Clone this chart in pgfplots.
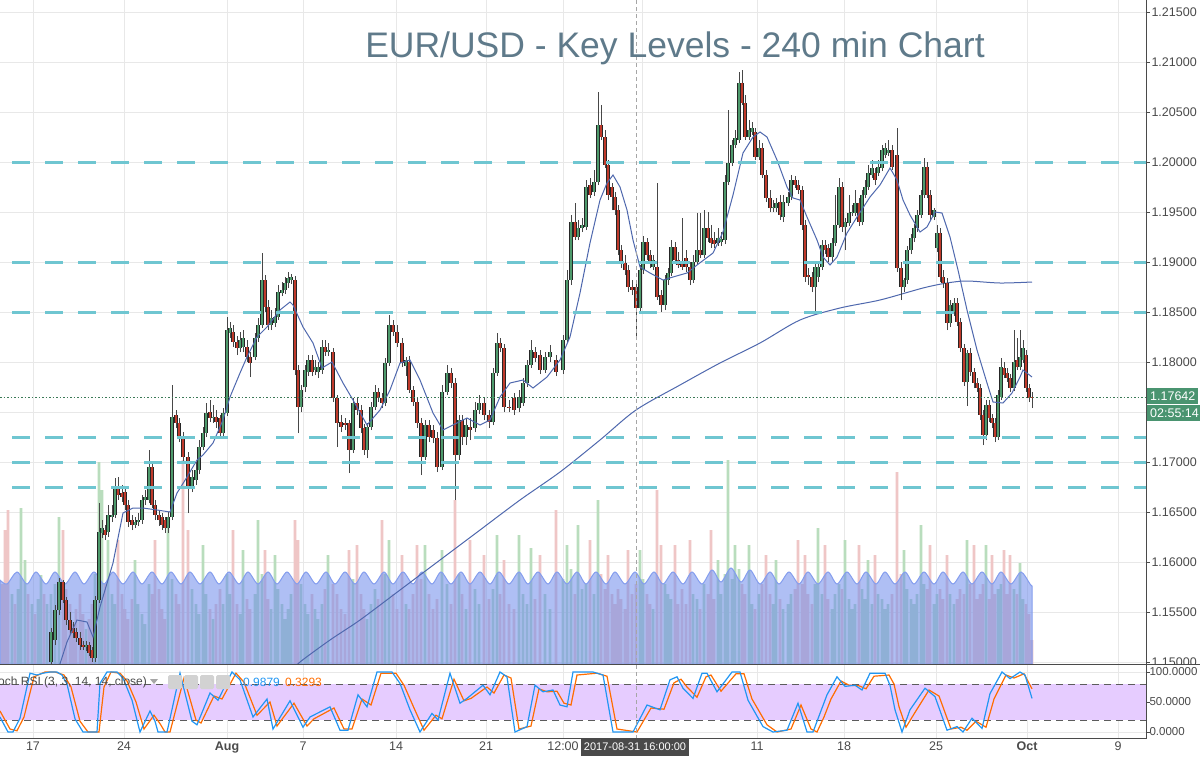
\documentclass[border=0pt]{standalone}
\usepackage{pgfplots}
\pgfplotsset{compat=1.18}
\usepackage{pgfplotstable}
\usepackage{fontspec}
\setmainfont{Liberation Sans}
\definecolor{gridc}{HTML}{E8E8E8}
\definecolor{txt}{HTML}{4A4A4A}
\definecolor{upc}{HTML}{4E9A6C}
\definecolor{dnc}{HTML}{BF3A2B}
\definecolor{edge}{HTML}{262626}
\definecolor{keyc}{HTML}{6FC6D1}
\definecolor{mac}{HTML}{4F68AE}
\definecolor{volup}{HTML}{B9DDBD}
\definecolor{voldn}{HTML}{EFC6C6}
\definecolor{volma}{HTML}{6E8CEB}
\definecolor{kc}{HTML}{2196F3}
\definecolor{dc}{HTML}{FF6D00}
\definecolor{band}{HTML}{E6CCFF}
\definecolor{titlec}{HTML}{5F7A8A}
\definecolor{pricebox}{HTML}{4A9470}
\definecolor{cur}{HTML}{3B7A57}

\pgfplotstableread{
x o h l c v
51 1.1500 1.1534 1.1498 1.1530 70
55 1.1522 1.1557 1.1517 1.1552 80
59 1.1552 1.1584 1.1547 1.1580 147
63 1.1580 1.1582 1.1559 1.1562 134
66 1.1562 1.1565 1.1537 1.1542 75
70 1.1542 1.1550 1.1527 1.1532 60
73 1.1534 1.1540 1.1524 1.1529 40
76 1.1530 1.1534 1.1520 1.1524 55
80 1.1524 1.1530 1.1512 1.1517 70
83 1.1517 1.1521 1.1512 1.1515 50
86 1.1515 1.1521 1.1511 1.1517 35
89 1.1517 1.1520 1.1506 1.1509 45
92 1.1512 1.1515 1.1500 1.1504 60
95 1.1504 1.1566 1.1500 1.1562 90
99 1.1562 1.1659 1.1559 1.1630 202
102 1.1629 1.1642 1.1624 1.1634 174
105 1.1632 1.1637 1.1622 1.1627 80
108 1.1630 1.1657 1.1625 1.1647 124
112 1.1645 1.1657 1.1640 1.1647 70
115 1.1647 1.1684 1.1644 1.1674 60
118 1.1674 1.1685 1.1662 1.1667 124
122 1.1669 1.1677 1.1660 1.1665 70
125 1.1670 1.1674 1.1652 1.1657 55
128 1.1657 1.1662 1.1635 1.1640 45
132 1.1642 1.1647 1.1632 1.1637 65
135 1.1637 1.1645 1.1634 1.1640 104
138 1.1640 1.1649 1.1636 1.1642 60
142 1.1642 1.1667 1.1638 1.1662 50
145 1.1662 1.1672 1.1657 1.1665 40
149 1.1662 1.1712 1.1659 1.1695 80
152 1.1695 1.1700 1.1654 1.1657 70
155 1.1657 1.1662 1.1642 1.1647 124
159 1.1647 1.1652 1.1636 1.1642 75
162 1.1645 1.1649 1.1632 1.1637 55
165 1.1642 1.1645 1.1629 1.1634 45
168 1.1634 1.1650 1.1629 1.1645 139
172 1.1645 1.1777 1.1642 1.1745 85
176 1.1747 1.1752 1.1734 1.1739 70
179 1.1739 1.1744 1.1720 1.1725 60
183 1.1725 1.1730 1.1700 1.1705 204
188 1.1705 1.1710 1.1649 1.1675 134
192 1.1675 1.1692 1.1670 1.1685 75
196 1.1682 1.1700 1.1677 1.1692 60
199 1.1692 1.1722 1.1688 1.1715 50
203 1.1715 1.1735 1.1712 1.1729 119
206 1.1729 1.1759 1.1725 1.1749 70
210 1.1750 1.1762 1.1740 1.1744 55
213 1.1744 1.1757 1.1739 1.1745 45
216 1.1745 1.1752 1.1734 1.1740 60
220 1.1744 1.1747 1.1724 1.1729 75
223 1.1729 1.1754 1.1726 1.1749 60
227 1.1749 1.1845 1.1746 1.1832 90
230 1.1829 1.1840 1.1824 1.1834 70
233 1.1830 1.1837 1.1815 1.1820 134
237 1.1820 1.1826 1.1807 1.1814 60
240 1.1814 1.1830 1.1810 1.1822 50
243 1.1815 1.1832 1.1810 1.1824 114
247 1.1815 1.1822 1.1800 1.1805 65
250 1.1805 1.1810 1.1785 1.1799 55
255 1.1805 1.1829 1.1802 1.1824 70
258 1.1824 1.1844 1.1820 1.1837 144
262 1.1837 1.1909 1.1834 1.1882 90
265 1.1882 1.1887 1.1850 1.1855 114
268 1.1855 1.1862 1.1832 1.1837 65
271 1.1837 1.1852 1.1832 1.1844 55
275 1.1839 1.1854 1.1835 1.1845 109
278 1.1845 1.1877 1.1842 1.1870 75
282 1.1869 1.1880 1.1866 1.1872 60
285 1.1872 1.1885 1.1868 1.1879 45
288 1.1879 1.1890 1.1874 1.1884 55
291 1.1882 1.1888 1.1878 1.1885 70
295 1.1882 1.1886 1.1787 1.1792 144
298 1.1792 1.1797 1.1729 1.1755 124
301 1.1755 1.1777 1.1750 1.1772 80
305 1.1775 1.1797 1.1770 1.1792 60
308 1.1790 1.1807 1.1786 1.1802 50
312 1.1802 1.1807 1.1786 1.1790 70
315 1.1792 1.1802 1.1787 1.1795 55
318 1.1790 1.1800 1.1784 1.1795 45
322 1.1792 1.1822 1.1788 1.1815 60
325 1.1815 1.1822 1.1806 1.1810 75
328 1.1810 1.1819 1.1806 1.1812 109
333 1.1810 1.1814 1.1760 1.1764 80
337 1.1764 1.1767 1.1715 1.1739 70
341 1.1740 1.1747 1.1730 1.1735 55
345 1.1739 1.1744 1.1732 1.1737 50
349 1.1739 1.1742 1.1689 1.1712 114
353 1.1712 1.1764 1.1709 1.1759 85
357 1.1759 1.1764 1.1747 1.1752 119
361 1.1752 1.1757 1.1729 1.1734 70
364 1.1734 1.1738 1.1707 1.1712 55
367 1.1712 1.1739 1.1704 1.1735 45
371 1.1735 1.1760 1.1732 1.1755 60
375 1.1755 1.1777 1.1752 1.1770 75
378 1.1770 1.1774 1.1760 1.1764 65
382 1.1764 1.1769 1.1754 1.1759 144
385 1.1759 1.1804 1.1756 1.1799 90
389 1.1799 1.1847 1.1796 1.1837 124
393 1.1837 1.1842 1.1826 1.1830 70
397 1.1830 1.1837 1.1815 1.1819 55
402 1.1819 1.1824 1.1795 1.1799 109
406 1.1796 1.1805 1.1786 1.1802 60
409 1.1800 1.1806 1.1769 1.1772 55
413 1.1772 1.1776 1.1756 1.1760 70
417 1.1760 1.1764 1.1734 1.1739 119
421 1.1739 1.1744 1.1687 1.1705 85
425 1.1705 1.1742 1.1702 1.1737 119
429 1.1737 1.1742 1.1720 1.1725 70
433 1.1732 1.1737 1.1719 1.1724 55
437 1.1724 1.1730 1.1690 1.1695 65
442 1.1695 1.1777 1.1692 1.1770 114
447 1.1770 1.1797 1.1767 1.1789 80
451 1.1789 1.1794 1.1774 1.1779 60
455 1.1779 1.1784 1.1662 1.1707 164
459 1.1707 1.1747 1.1702 1.1742 90
462 1.1742 1.1747 1.1717 1.1725 70
466 1.1725 1.1744 1.1717 1.1737 55
470 1.1735 1.1744 1.1722 1.1732 124
475 1.1734 1.1760 1.1730 1.1752 75
479 1.1752 1.1767 1.1748 1.1759 60
484 1.1759 1.1764 1.1742 1.1747 109
489 1.1747 1.1752 1.1734 1.1740 65
493 1.1740 1.1794 1.1737 1.1789 75
497 1.1789 1.1829 1.1786 1.1819 129
500 1.1819 1.1824 1.1810 1.1814 70
504 1.1814 1.1818 1.1750 1.1755 104
509 1.1755 1.1762 1.1750 1.1754 60
514 1.1764 1.1769 1.1747 1.1752 55
519 1.1754 1.1772 1.1750 1.1765 129
523 1.1759 1.1784 1.1756 1.1779 70
527 1.1779 1.1802 1.1775 1.1797 60
531 1.1797 1.1822 1.1794 1.1812 116
535 1.1810 1.1815 1.1800 1.1804 65
540 1.1807 1.1812 1.1788 1.1792 109
545 1.1792 1.1810 1.1789 1.1805 70
550 1.1805 1.1817 1.1800 1.1810 55
556 1.1802 1.1807 1.1786 1.1790 154
563 1.1792 1.1827 1.1788 1.1822 85
567 1.1822 1.1892 1.1819 1.1882 119
571 1.1882 1.1947 1.1877 1.1940 95
575 1.1940 1.1959 1.1922 1.1925 70
578 1.1925 1.1942 1.1922 1.1934 139
582 1.1934 1.1944 1.1930 1.1937 75
586 1.1935 1.1982 1.1932 1.1975 80
590 1.1977 1.1984 1.1964 1.1967 124
594 1.1970 1.1992 1.1966 1.1980 70
598 1.1980 1.2070 1.1977 1.2037 164
601 1.2037 1.2057 1.2022 1.2025 90
605 1.2025 1.2032 1.1994 1.1997 75
608 1.1997 1.2002 1.1962 1.1967 109
612 1.1975 1.1979 1.1952 1.1965 70
615 1.1965 1.1970 1.1947 1.1952 60
618 1.1952 1.1957 1.1907 1.1912 75
621 1.1912 1.1917 1.1894 1.1899 65
625 1.1899 1.1907 1.1887 1.1892 55
628 1.1892 1.1897 1.1870 1.1875 114
632 1.1875 1.1882 1.1867 1.1872 70
636 1.1875 1.1880 1.1822 1.1854 80
640 1.1854 1.1897 1.1850 1.1892 114
643 1.1892 1.1926 1.1888 1.1920 85
647 1.1920 1.1924 1.1902 1.1907 70
650 1.1907 1.1912 1.1894 1.1899 60
653 1.1895 1.1907 1.1892 1.1902 55
657 1.1895 1.1979 1.1862 1.1865 174
661 1.1867 1.1872 1.1850 1.1857 119
665 1.1857 1.1887 1.1852 1.1882 80
668 1.1882 1.1894 1.1877 1.1889 70
671 1.1889 1.1922 1.1886 1.1915 65
675 1.1915 1.1920 1.1898 1.1902 119
678 1.1902 1.1910 1.1894 1.1897 60
682 1.1900 1.1944 1.1892 1.1895 75
686 1.1904 1.1912 1.1890 1.1895 60
690 1.1895 1.1900 1.1877 1.1882 124
693 1.1882 1.1907 1.1879 1.1900 70
697 1.1900 1.1949 1.1897 1.1912 65
700 1.1912 1.1949 1.1904 1.1907 55
704 1.1907 1.1952 1.1904 1.1934 80
708 1.1934 1.1950 1.1920 1.1924 70
711 1.1924 1.1937 1.1914 1.1919 134
714 1.1922 1.1930 1.1914 1.1918 65
718 1.1919 1.1934 1.1916 1.1924 104
721 1.1920 1.1930 1.1916 1.1923 70
725 1.1922 1.1987 1.1918 1.1980 90
728 1.1980 1.2052 1.1977 1.1999 204
732 1.1999 1.2022 1.1996 1.2017 85
735 1.2017 1.2032 1.2014 1.2024 119
739 1.2022 1.2090 1.2019 1.2079 95
742 1.2079 1.2092 1.2057 1.2059 80
745 1.2059 1.2067 1.2022 1.2025 70
749 1.2025 1.2042 1.2022 1.2032 119
752 1.2030 1.2040 1.2027 1.2034 60
755 1.2030 1.2034 1.2002 1.2005 55
759 1.2005 1.2022 1.2002 1.2014 70
762 1.2014 1.2019 1.1984 1.1987 80
766 1.1987 1.1992 1.1960 1.1964 109
770 1.1964 1.1972 1.1950 1.1954 70
773 1.1954 1.1962 1.1950 1.1955 60
776 1.1954 1.1964 1.1950 1.1959 104
780 1.1960 1.1967 1.1942 1.1947 65
783 1.1945 1.1967 1.1940 1.1960 55
788 1.1959 1.1970 1.1956 1.1965 60
791 1.1965 1.1987 1.1962 1.1982 70
795 1.1982 1.1986 1.1974 1.1977 75
798 1.1977 1.1982 1.1968 1.1972 124
802 1.1972 1.1976 1.1932 1.1937 80
805 1.1937 1.1942 1.1880 1.1885 109
808 1.1887 1.1894 1.1877 1.1885 70
812 1.1885 1.1890 1.1870 1.1875 60
815 1.1875 1.1900 1.1849 1.1895 80
818 1.1885 1.1900 1.1880 1.1895 136
822 1.1895 1.1922 1.1892 1.1917 70
825 1.1917 1.1922 1.1908 1.1912 119
828 1.1914 1.1918 1.1900 1.1905 65
832 1.1905 1.1924 1.1900 1.1919 55
835 1.1919 1.1967 1.1916 1.1937 70
839 1.1937 1.1984 1.1934 1.1975 80
842 1.1975 1.1980 1.1930 1.1935 75
845 1.1935 1.1944 1.1912 1.1940 124
849 1.1939 1.1967 1.1936 1.1949 65
852 1.1949 1.1957 1.1946 1.1950 55
855 1.1949 1.1972 1.1946 1.1959 60
859 1.1959 1.1964 1.1936 1.1940 119
862 1.1940 1.1972 1.1937 1.1967 75
865 1.1967 1.1982 1.1964 1.1975 65
868 1.1975 1.1997 1.1972 1.1989 104
872 1.1987 1.2002 1.1984 1.1994 60
875 1.1989 1.1994 1.1977 1.1982 109
878 1.1989 1.2002 1.1986 1.1995 70
882 1.1994 1.2017 1.1991 1.2012 65
885 1.2007 1.2019 1.2004 1.2014 55
888 1.2009 1.2022 1.2006 1.2012 60
892 1.2012 1.2017 1.1992 1.1995 70
897 1.2007 1.2034 1.1890 1.1894 192
901 1.1894 1.1900 1.1862 1.1875 90
904 1.1875 1.1884 1.1870 1.1882 114
907 1.1882 1.1916 1.1878 1.1912 75
911 1.1912 1.1928 1.1908 1.1924 65
914 1.1924 1.1938 1.1920 1.1934 60
917 1.1934 1.1952 1.1930 1.1947 70
921 1.1947 1.1972 1.1944 1.1967 139
924 1.1967 1.2004 1.1964 1.1995 80
927 1.1995 1.2000 1.1964 1.1967 75
930 1.1967 1.1972 1.1942 1.1947 119
934 1.1945 1.1954 1.1942 1.1952 60
937 1.1914 1.1937 1.1910 1.1929 70
940 1.1929 1.1934 1.1880 1.1885 75
943 1.1885 1.1892 1.1874 1.1879 65
947 1.1879 1.1884 1.1832 1.1839 109
950 1.1839 1.1862 1.1835 1.1857 70
954 1.1850 1.1864 1.1846 1.1859 60
957 1.1859 1.1864 1.1836 1.1840 65
960 1.1840 1.1844 1.1810 1.1814 75
964 1.1814 1.1818 1.1776 1.1780 70
967 1.1780 1.1812 1.1756 1.1809 124
970 1.1809 1.1814 1.1786 1.1790 80
974 1.1790 1.1794 1.1774 1.1779 119
977 1.1779 1.1784 1.1770 1.1774 65
980 1.1774 1.1778 1.1742 1.1747 70
983 1.1747 1.1752 1.1717 1.1727 80
986 1.1727 1.1762 1.1722 1.1757 119
989 1.1757 1.1762 1.1740 1.1744 65
992 1.1744 1.1748 1.1734 1.1739 109
995 1.1739 1.1744 1.1720 1.1725 70
998 1.1725 1.1772 1.1722 1.1767 75
1001 1.1765 1.1804 1.1762 1.1795 80
1004 1.1794 1.1800 1.1784 1.1787 114
1007 1.1789 1.1794 1.1780 1.1784 70
1010 1.1784 1.1788 1.1770 1.1774 109
1014 1.1774 1.1832 1.1771 1.1800 75
1017 1.1802 1.1824 1.1792 1.1795 70
1020 1.1795 1.1832 1.1792 1.1805 101
1023 1.1802 1.1822 1.1799 1.1814 65
1026 1.1807 1.1812 1.1770 1.1774 60
1029 1.1774 1.1778 1.1760 1.1764 50
1032 1.1765 1.1770 1.1754 1.1764 24
}\candles

\pgfplotstableread{
x v u
2 80 0
5 134 0
8 154 0
12 70 1
15 60 0
18 75 1
21 156 1
25 104 1
28 70 0
32 60 1
35 50 0
38 65 1
41 89 1
44 70 0
47 60 1
}\prevol

\begin{document}
\begin{tikzpicture}
\useasboundingbox (0,0) rectangle (1200pt,-756pt);
\fill[white] (0,0) rectangle (1200pt,-756pt);

% ---------- grid / price scale ----------
\begin{axis}[
  at={(0pt,0pt)}, anchor=north west, scale only axis,
  width=1146pt, height=664pt,
  xmin=0, xmax=1146, ymin=1.1498, ymax=1.2162,
  axis line style={draw=none}, major tick length=0pt,
  xtick={33,124,227,303,396,486,563,642,757,844,936,1027,1118},
  xticklabels={},
  ytick={1.15,1.155,1.16,1.165,1.17,1.175,1.18,1.185,1.19,1.195,1.2,1.205,1.21,1.215},
  scaled y ticks=false,
  yticklabel pos=right,
  yticklabel style={font=\fontsize{12.5}{14}\selectfont, text=txt, xshift=2pt,
    /pgf/number format/fixed, /pgf/number format/fixed zerofill,
    /pgf/number format/precision=5, /pgf/number format/assume math mode=true},
  grid=major, grid style={gridc, line width=1pt},
]
\addplot[draw=none] coordinates {(0,1.18)};
\end{axis}

% ---------- volume ----------
\begin{axis}[
  at={(0pt,0pt)}, anchor=north west, scale only axis,
  width=1146pt, height=664pt, hide axis,
  xmin=0, xmax=1146, ymin=0, ymax=664,
]
\addplot[ybar, bar width=2.8pt, bar shift=0pt, fill=volup, draw=none,
  restrict expr to domain={\thisrow{c}-\thisrow{o}}{0:1}] table[x=x,y=v] {\candles};
\addplot[ybar, bar width=2.8pt, bar shift=0pt, fill=voldn, draw=none,
  restrict expr to domain={\thisrow{c}-\thisrow{o}}{-1:-0.00001}] table[x=x,y=v] {\candles};
\addplot[ybar, bar width=2.8pt, bar shift=0pt, fill=volup, draw=none,
  restrict expr to domain={\thisrow{u}}{0.5:1.5}] table[x=x,y=v] {\prevol};
\addplot[ybar, bar width=2.8pt, bar shift=0pt, fill=voldn, draw=none,
  restrict expr to domain={\thisrow{u}}{-0.5:0.5}] table[x=x,y=v] {\prevol};
\addplot[smooth, draw=volma!85, line width=1pt, fill=volma, fill opacity=0.55] coordinates {
(0,84) (7,80) (17,92) (27,80) (36,92) (46,80) (55,92) (65,80) (75,92) (84,80) (94,92) (104,80) (113,92) (123,80) (133,92) (142,80) (152,92) (162,80) (171,92) (181,80) (190,92) (200,80) (210,92) (219,80) (229,92) (239,80) (248,92) (258,80) (268,92) (277,80) (287,92) (297,80) (306,92) (316,80) (326,92) (335,80) (345,92) (355,80) (364,92) (374,80) (384,92) (393,80) (403,92) (413,80) (422,92) (432,80) (441,92) (451,80) (461,92) (470,80) (480,92) (490,80) (499,92) (509,80) (519,92) (528,80) (538,92) (548,80) (557,92) (567,80) (577,92) (586,80) (596,92) (606,80) (615,92) (625,80) (635,92) (644,80) (654,92) (663,80) (673,92) (683,80) (692,92) (702,80) (712,94) (721,82) (731,96) (741,82) (750,94) (760,80) (770,92) (779,80) (789,92) (799,80) (808,92) (818,80) (828,92) (837,80) (847,92) (857,80) (866,92) (876,80) (885,92) (895,80) (905,92) (914,80) (924,92) (934,80) (943,92) (953,80) (963,92) (972,80) (982,92) (992,80) (1001,92) (1011,80) (1021,92) (1030,80) (1032,78)
} \closedcycle;
\end{axis}

% ---------- price ----------
\begin{axis}[
  at={(0pt,0pt)}, anchor=north west, scale only axis,
  width=1146pt, height=664pt, hide axis,
  xmin=0, xmax=1146, ymin=1.1498, ymax=1.2162,
]
% long MA
\addplot[mac, line width=1pt, smooth] coordinates {
(290,1.1490) (300,1.1500) (330,1.1522) (360,1.1542) (400,1.1572) (440,1.1602) (480,1.1632) (520,1.1662) (560,1.1690) (600,1.1722) (636,1.1752) (680,1.1777) (720,1.1799) (760,1.1819) (800,1.1842) (840,1.1854) (880,1.1862) (923,1.1874) (947,1.1879) (967,1.1881) (1000,1.1879) (1032,1.1880)};
% wicks
\addplot[-, edge!85, line width=1pt, quiver={u=0, v={\thisrow{h}-\thisrow{l}}}] table[x=x, y=l] {\candles};
% bodies: outline
\addplot[-, edge, line width=3.2pt, quiver={u=0, v={\thisrow{c}-\thisrow{o}}}] table[x=x, y=o] {\candles};
% bodies: fill
\addplot[-, upc, line width=1.8pt, quiver={u=0, v={\thisrow{c}-\thisrow{o}}},
  restrict expr to domain={\thisrow{c}-\thisrow{o}}{0:1}] table[x=x, y=o] {\candles};
\addplot[-, dnc, line width=1.8pt, quiver={u=0, v={\thisrow{c}-\thisrow{o}}},
  restrict expr to domain={\thisrow{c}-\thisrow{o}}{-1:-0.00001}] table[x=x, y=o] {\candles};
% short MA
\addplot[mac, line width=1pt] coordinates {
(58,1.1492) (67,1.1520) (77,1.1542) (87,1.1540) (93,1.1525) (100,1.1555) (113,1.1599) (123,1.1649) (133,1.1654) (143,1.1654) (157,1.1652) (170,1.1650) (177,1.1669) (187,1.1685) (197,1.1702) (203,1.1707) (213,1.1719) (223,1.1742) (230,1.1765) (240,1.1789) (247,1.1805) (257,1.1825) (267,1.1835) (280,1.1852) (290,1.1860) (293,1.1857) (303,1.1835) (313,1.1819) (322,1.1794) (332,1.1800) (343,1.1779) (353,1.1762) (367,1.1737) (380,1.1752) (390,1.1772) (400,1.1799) (410,1.1802) (420,1.1782) (433,1.1749) (443,1.1732) (457,1.1739) (467,1.1744) (480,1.1737) (490,1.1742) (500,1.1765) (510,1.1779) (523,1.1782) (533,1.1774) (547,1.1785) (560,1.1802) (570,1.1825) (580,1.1869) (590,1.1919) (600,1.1962) (607,1.1979) (613,1.1987) (620,1.1975) (627,1.1952) (633,1.1922) (640,1.1895) (650,1.1889) (663,1.1882) (673,1.1885) (687,1.1889) (697,1.1897) (713,1.1909) (723,1.1930) (733,1.1967) (743,1.2009) (753,1.2025) (760,1.2030) (767,1.2025) (777,1.2002) (787,1.1975) (793,1.1964) (800,1.1962) (807,1.1945) (817,1.1922) (823,1.1905) (830,1.1897) (837,1.1905) (847,1.1929) (857,1.1945) (870,1.1965) (880,1.1977) (890,1.1994) (897,1.1982) (903,1.1962) (910,1.1947) (920,1.1930) (927,1.1935) (935,1.1950) (942,1.1949) (950,1.1925) (958,1.1892) (967,1.1852) (977,1.1812) (987,1.1779) (993,1.1760) (1003,1.1759) (1012,1.1769) (1020,1.1785) (1023,1.1792) (1032,1.1785)};
% key levels
\pgfplotsinvokeforeach{1.2,1.19,1.185,1.1725,1.17,1.1675}{
  \addplot[keyc, line width=3pt, dash pattern=on 18pt off 15pt, dash phase=21pt] coordinates {(0,#1) (1146,#1)};
}
% current price
\addplot[cur, line width=0.8pt, dash pattern=on 1.5pt off 2pt] coordinates {(0,1.17642) (1146,1.17642)};
\end{axis}

% mask the lower half of the 1.15000 label, as the lower pane covers it
\fill[white] (1147pt,-665pt) rectangle (1200pt,-690pt);

% ---------- stoch RSI ----------
\begin{axis}[
  at={(0pt,-665pt)}, anchor=north west, scale only axis,
  width=1146pt, height=73pt,
  xmin=0, xmax=1146, ymin=-10, ymax=111.67,
  axis line style={draw=none}, major tick length=0pt,
  xtick={33,124,227,303,396,486,563,757,844,936,1027,1118},
  xticklabels={17,24,\textbf{Aug},7,14,21,12:00,11,18,25,\textbf{Oct},9},
  xticklabel style={font=\fontsize{12.5}{14}\selectfont, text=txt},
  ytick={0,50,100}, yticklabel pos=right,
  yticklabel style={font=\fontsize{11.5}{13}\selectfont, text=txt, xshift=0pt,
    /pgf/number format/fixed, /pgf/number format/fixed zerofill,
    /pgf/number format/precision=4, /pgf/number format/assume math mode=true},
  grid=major, grid style={gridc, line width=1pt},
]
\fill[band] (axis cs:0,20) rectangle (axis cs:1146,80);
\draw[txt!90, line width=1pt, dash pattern=on 7pt off 5pt] (axis cs:0,80) -- (axis cs:1146,80);
\draw[txt!90, line width=1pt, dash pattern=on 7pt off 5pt] (axis cs:0,20) -- (axis cs:1146,20);
\addplot[dc, line width=1.2pt] coordinates {
(0,35) (10,5) (17,2) (24,25) (34,92) (45,100) (55,100) (64,95) (71,75) (80,18) (88,0) (99,0) (104,75) (111,100) (120,98) (127,85) (136,50) (144,5) (154,28) (160,14) (165,0) (170,0) (184,90) (196,20) (201,15) (214,60) (222,55) (236,98) (244,83) (257,28) (270,50) (277,10) (294,48) (307,10) (314,22) (334,40) (344,5) (352,5) (362,55) (371,45) (381,98) (396,98) (404,78) (414,40) (424,3) (436,28) (442,22) (454,88) (464,52) (471,56) (487,75) (494,65) (504,95) (511,90) (519,5) (531,10) (539,72) (547,67) (557,68) (564,48) (571,45) (577,95) (597,98) (607,93) (617,5) (637,0) (651,40) (664,38) (674,82) (681,88) (687,75) (697,58) (706,92) (711,95) (721,68) (736,97) (744,97) (752,55) (767,12) (777,0) (791,5) (801,45) (811,5) (817,0) (824,25) (831,55) (841,85) (849,78) (859,77) (866,72) (874,93) (889,95) (894,80) (899,42) (906,8) (914,30) (929,70) (939,60) (951,5) (961,8) (967,3) (976,18) (986,8) (994,55) (1006,95) (1014,90) (1024,97) (1032,72)};
\addplot[kc, line width=1.2pt] coordinates {
(0,25) (8,0) (13,0) (20,23) (30,98) (37,95) (43,98) (50,100) (57,100) (62,95) (67,80) (75,22) (83,0) (97,0) (100,81) (107,100) (117,100) (123,90) (132,53) (140,0) (150,35) (155,18) (158,0) (167,0) (180,98) (192,18) (197,12) (210,65) (218,53) (232,100) (240,87) (253,25) (267,55) (273,5) (290,52) (303,8) (310,25) (330,42) (340,3) (348,3) (358,62) (367,42) (377,100) (392,100) (400,81) (410,37) (420,0) (432,31) (438,20) (450,98) (460,48) (467,56) (483,78) (490,62) (500,100) (507,92) (515,0) (527,9) (535,78) (543,67) (553,70) (560,45) (567,42) (573,100) (593,100) (603,95) (613,0) (633,0) (647,45) (660,37) (670,87) (677,92) (683,73) (693,56) (702,98) (707,98) (717,67) (732,100) (740,100) (748,53) (763,9) (773,0) (787,3) (798,48) (807,0) (813,0) (820,31) (827,62) (837,92) (845,76) (855,78) (862,70) (870,98) (885,98) (890,78) (895,37) (902,0) (910,37) (925,73) (935,59) (947,3) (957,9) (963,0) (972,23) (982,6) (990,64) (1002,100) (1010,89) (1020,100) (1025,95) (1032,56)};
\end{axis}

% ---------- frame & decorations ----------
\draw[txt, line width=1pt] (1146.5pt,0pt) -- (1146.5pt,-738.5pt);
\draw[txt, line width=1pt] (0pt,-664.5pt) -- (1200pt,-664.5pt);
\draw[txt, line width=1pt] (0pt,-738.5pt) -- (1146.5pt,-738.5pt);
\foreach \k in {0,...,13} { \draw[txt, line width=0.8pt] (1146pt,{-(12+50*\k)*1pt}) -- ++(4pt,0pt); }
\foreach \yy in {672,702,732} { \draw[txt, line width=0.8pt] (1146pt,{-\yy*1pt}) -- ++(4pt,0pt); }
\draw[gray!70, line width=0.8pt, dash pattern=on 4pt off 3pt] (636pt,0pt) -- (636pt,-738pt);

% price labels
\node[fill=pricebox, text=white, font=\fontsize{12.5}{14}\selectfont, anchor=west, inner xsep=3pt, inner ysep=0pt, minimum height=16pt] at (1147pt,-396pt) {1.17642};
\node[fill=pricebox, text=white, font=\fontsize{12.5}{14}\selectfont, anchor=west, inner xsep=3pt, inner ysep=0pt, minimum height=16pt] at (1147pt,-413pt) {02:55:14};

% crosshair time label
\node[fill=txt, text=white, font=\fontsize{11}{13}\selectfont, inner xsep=3pt, inner ysep=0pt, minimum height=18pt] at (635pt,-747pt) {2017-08-31 16:00:00};

% stoch legend
\node[anchor=west, text=txt, font=\fontsize{12}{14}\selectfont, inner sep=0pt] at (-2pt,-682pt) {och RSI (3, 3, 14, 14, close)};
\fill[gray!70] (150pt,-679pt) -- (158pt,-679pt) -- (154pt,-684pt) -- cycle;
\foreach \bx in {168,184,200,216} { \fill[gray!35, rounded corners=1.5pt] (\bx pt,-675pt) rectangle ++(14pt,-14pt); }
\node[anchor=west, text=kc, font=\fontsize{12}{14}\selectfont, inner sep=0pt] at (243pt,-682pt) {0.9879};
\node[anchor=west, text=dc, font=\fontsize{12}{14}\selectfont, inner sep=0pt] at (285pt,-682pt) {0.3293};

% title
\node[anchor=base, text=titlec, font=\fontsize{35.5}{40}\selectfont, inner sep=0pt] at (675pt,-57pt) {EUR/USD - Key Levels - 240 min Chart};
\end{tikzpicture}
\end{document}
